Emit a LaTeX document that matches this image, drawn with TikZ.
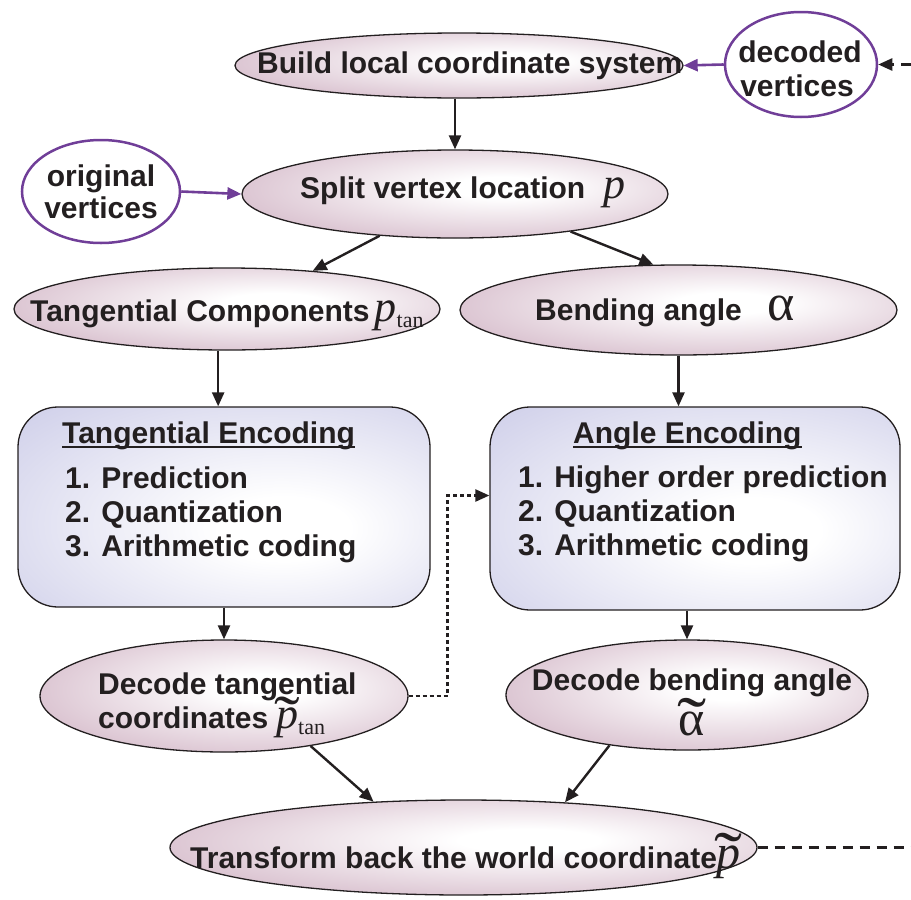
\documentclass[tikz,border=0pt]{standalone}
\usepackage{fontspec}
\usepackage{graphicx}
\setmainfont{Liberation Sans}
\newfontfamily\tms{Liberation Serif}
\usetikzlibrary{shapes.geometric,arrows.meta}

\definecolor{mauve}{RGB}{192,152,175}
\definecolor{lav}{RGB}{186,186,224}
\definecolor{vio}{RGB}{112,62,152}
\definecolor{ink}{RGB}{35,31,32}

% soft radial fills: white core fading to the border colour
\pgfdeclareradialshading{mauveshade}{\pgfpoint{6bp}{4bp}}{color(0bp)=(white); color(6bp)=(white); color(48bp)=(mauve); color(90bp)=(mauve)}
\pgfdeclareradialshading{lavshade}{\pgfpoint{8bp}{-6bp}}{color(0bp)=(white); color(8bp)=(white); color(55bp)=(lav); color(90bp)=(lav)}

\newcommand\lblfont{\fontsize{30}{35}\selectfont\bfseries}
\newcommand\symsize{\fontsize{44}{44}\selectfont}
\newcommand\subsize{\fontsize{22}{22}\selectfont}
\newcommand\symP{{\symsize\tms\mdseries\itshape p}}
\newcommand\symA{{\fontsize{52}{52}\selectfont\tms\mdseries\upshape α}}
\newcommand\subtan{\raisebox{-6pt}{\subsize\tms\mdseries\upshape tan}}
% a wide serif tilde set over its argument
\newcommand\tildeover[1]{\leavevmode\setbox0\hbox{#1}%
  \rlap{\hbox to\wd0{\hss\smash{\raisebox{-10pt}{\scalebox{1.75}[1.4]{\tms\mdseries\upshape\char"02DC}}}\hss}}\box0}
\newcommand\tildeP{{\symsize\tildeover{\tms\mdseries\itshape p}}}
\newcommand\tildeA{{\fontsize{50}{50}\selectfont\tildeover{\tms\mdseries\upshape α}}}
\newcommand\tildePbig{{\fontsize{48}{48}\selectfont\tildeover{\tms\mdseries\itshape p}}}

\begin{document}
\begin{tikzpicture}[x=1pt,y=-1pt,
  ell/.style={ellipse, draw=ink, line width=1.3pt, shading=mauveshade, inner sep=0pt},
  src/.style={ellipse, draw=vio, line width=2.5pt, fill=white, inner sep=0pt},
  enc/.style={rectangle, rounded corners=40pt, draw=ink, line width=1.3pt, shading=lavshade, inner sep=0pt},
  txt/.style={font=\lblfont, text=ink, inner sep=0pt},
  arr/.style={draw=ink, line width=2.4pt, -{Triangle[length=14pt,width=12pt]}},
  varr/.style={draw=vio, line width=2.6pt, -{Triangle[length=14pt,width=12pt]}},
  dotarr/.style={arr, dash pattern=on 4pt off 3pt},
  dasharr/.style={arr, dash pattern=on 10pt off 7pt},
  dashline/.style={draw=ink, line width=2.2pt, dash pattern=on 10pt off 7pt}]
\useasboundingbox (0,0) rectangle (911,900);

% shapes
\node[ell, minimum width=448pt, minimum height=65pt]  (build)   at (459,65.5) {};
\node[src, minimum width=152pt, minimum height=105pt] (decoded) at (801,64.5) {};
\node[ell, minimum width=426pt, minimum height=88pt]  (split)   at (455,194) {};
\node[src, minimum width=158pt, minimum height=103pt] (orig)    at (101,191.5) {};
\node[ell, minimum width=426pt, minimum height=82pt]  (tcomp)   at (227,309) {};
\node[ell, minimum width=437pt, minimum height=90pt]  (bend)    at (678.5,310) {};
\node[enc, minimum width=412pt, minimum height=200pt] (tenc)    at (224,507) {};
\node[enc, minimum width=410pt, minimum height=203pt] (aenc)    at (695,508.5) {};
\node[ell, minimum width=368pt, minimum height=112pt] (dtan)    at (224,696) {};
\node[ell, minimum width=362pt, minimum height=110pt] (dbend)   at (687,695) {};
\node[ell, minimum width=587pt, minimum height=95pt]  (world)   at (463.5,847.5) {};

% labels
\node[txt, anchor=base west] (tbuild) at (257,73) {Build local coordinate system};
\node[txt, anchor=base] (tdec1) at (800,62) {decoded};
\node[txt, anchor=base] (tdec2) at (797,96) {vertices};
\node[txt, anchor=base] (torig1) at (101,186) {original};
\node[txt, anchor=base] (torig2) at (101,218) {vertices};
\node[txt, anchor=base west] (tsplit) at (300,198) {Split vertex location\hspace{18pt}\symP};
\node[txt, anchor=base west] (ttcomp) at (30,321) {Tangential Components\hspace{5pt}\symP\subtan};
\node[txt, anchor=base west] (tbend) at (535,320) {Bending angle\hspace{26pt}\symA};

\node[txt, anchor=base west] (tet) at (62,443) {Tangential Encoding};
\node[txt, anchor=base west] (tei1) at (65,488) {1. Prediction};
\node[txt, anchor=base west] (tei2) at (65,522) {2. Quantization};
\node[txt, anchor=base west] (tei3) at (65,556) {3. Arithmetic coding};
\draw[ink, line width=1.6pt] ([yshift=-4pt]tet.base west) -- ([yshift=-4pt]tet.base east);

\node[txt, anchor=base west] (aet) at (573,443) {Angle Encoding};
\node[txt, anchor=base west] (aei1) at (518,487) {1. Higher order prediction};
\node[txt, anchor=base west] (aei2) at (518,521) {2. Quantization};
\node[txt, anchor=base west] (aei3) at (518,555) {3. Arithmetic coding};
\draw[ink, line width=1.6pt] ([yshift=-4pt]aet.base west) -- ([yshift=-4pt]aet.base east);

\node[txt, anchor=base west] (tdt1) at (98,694) {Decode tangential};
\node[txt, anchor=base west] (tdt2) at (98,728) {coordinates\hspace{8pt}\tildeP\subtan};
\node[txt, anchor=base] (tdb1) at (692,690) {Decode bending angle};
\node[txt, anchor=base] (tdb2) at (692,735) {\tildeA};
\node[txt, anchor=base west] (tworld) at (190,868) {Transform back the world coordinate\tildePbig};

% connectors
\coordinate (inR) at (911,64.5);
\draw[dasharr] (decoded.east -| inR) -- (decoded.east);
\draw[varr] (decoded.west) -- (build.east);
\draw[varr] (orig.east) -- (split.west);
\draw[arr] (build.south -| split.north) -- (split.north);
\draw[arr] (split.209) -- (tcomp.24);
\draw[arr] (split.-18) -- (bend.119);
\draw[arr] (tcomp.258) -- (tcomp.258 |- tenc.north);
\draw[arr] (bend.south) -- (bend.south |- aenc.north);
\draw[arr] (tenc.south) -- (dtan.north);
\draw[arr] (dbend.north |- aenc.south) -- (dbend.north);
\draw[dotarr] (dtan.east) -- ++(39pt,0) |- ([yshift=13pt]aenc.west);
\draw[arr] (dtan.-30) -- (world.153);
\draw[arr] (dbend.213) -- (world.24);
\coordinate (outR) at (911,847.5);
\draw[dashline] (world.east) -- (outR);
\end{tikzpicture}
\end{document}
